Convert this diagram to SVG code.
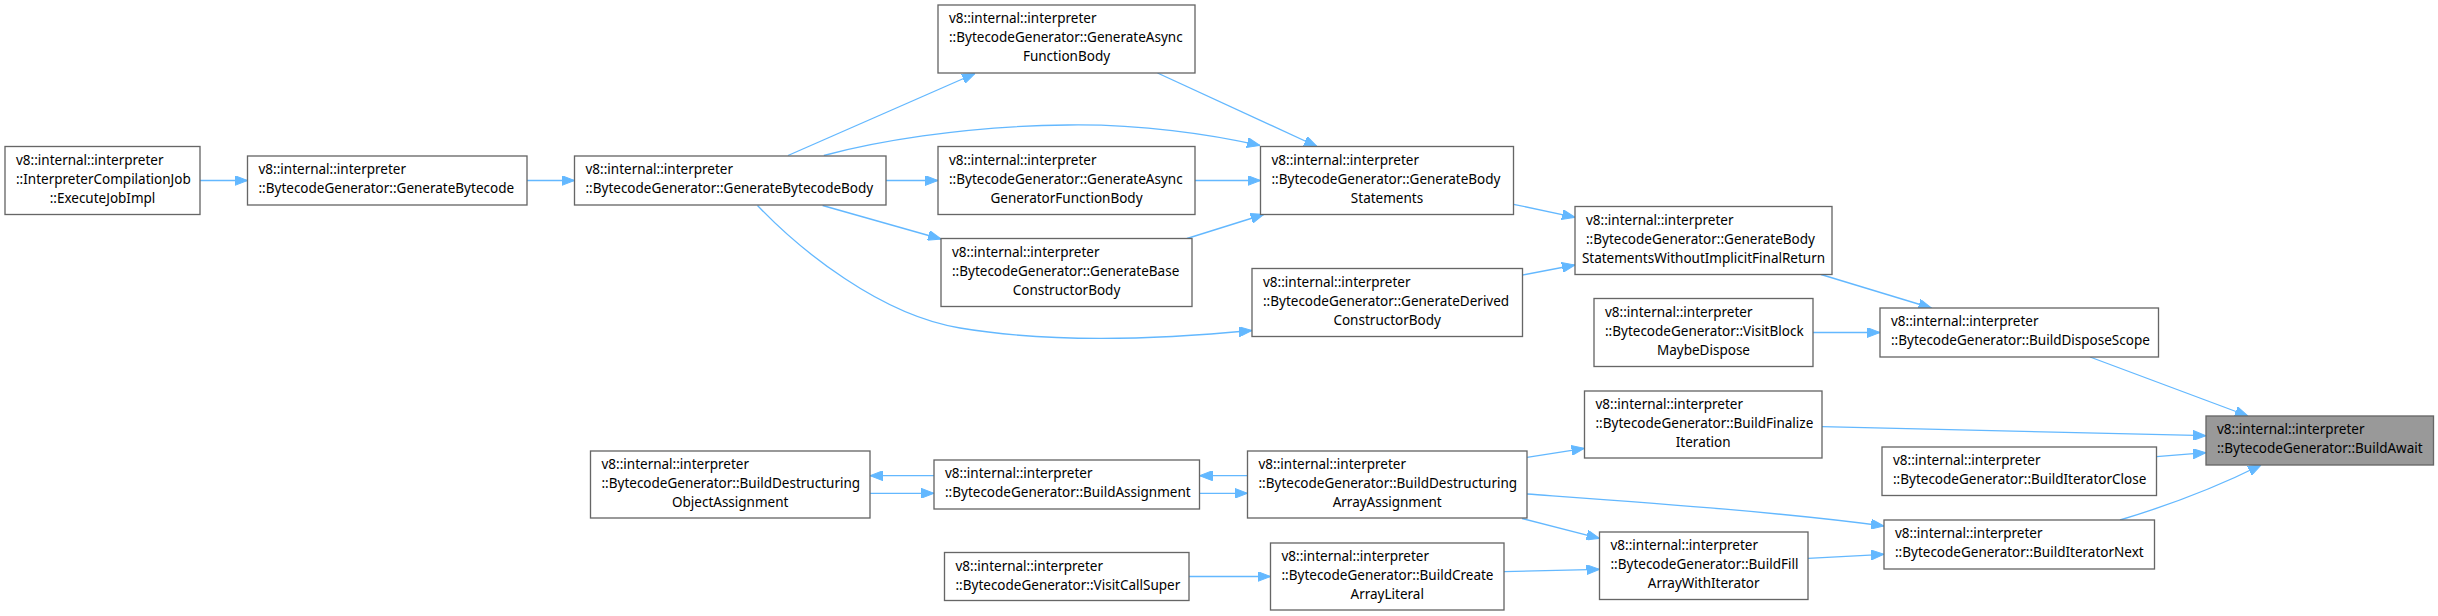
<svg xmlns="http://www.w3.org/2000/svg" width="2438" height="616" viewBox="0 0 2438 616">
<style>
.n rect{fill:#ffffff;stroke:#666666;stroke-width:1.33}
.n text{font-family:"Noto Sans","Liberation Sans",sans-serif;font-size:13.5px;fill:#000000}
.n text.c{text-anchor:middle}
#N12 rect{fill:#999999}
.e path{fill:none;stroke:#63b8ff;stroke-width:1.33;marker-end:url(#ah)}
</style>
<defs>
<marker id="ah" viewBox="0 0 13 10" refX="13" refY="5" markerWidth="13" markerHeight="10" markerUnits="userSpaceOnUse" orient="auto">
<path d="M0,0 L13,5 L0,10 Z" fill="#63b8ff" stroke="#63b8ff" stroke-width="1"/>
</marker>
</defs>
<rect width="2438" height="616" fill="#ffffff"/>
<g class="e" id="edges">
<path d="M200,180.5 L247.5,180.5"/>
<path d="M527,180.5 L574.5,180.5"/>
<path d="M788,155.5 L975,73.5"/>
<path d="M823.8,155.5 C870,143 960,126 1068,125 C1140,124 1210,134 1260,145.5"/>
<path d="M886,180.5 L938,180.5"/>
<path d="M822.6,205.5 L941,239"/>
<path d="M757.5,205.5 C800,250 880,315 960,328 C1050,343 1150,340 1252,330.5"/>
<path d="M1157.5,73 L1317,146.5"/>
<path d="M1195,180.5 L1260.5,180.5"/>
<path d="M1187,238.5 L1263.7,214.5"/>
<path d="M1513.5,204.3 L1575,217.3"/>
<path d="M1522.5,275 L1575,265"/>
<path d="M1821,274.5 L1931.5,308"/>
<path d="M1813,332.5 L1880,332.5"/>
<path d="M2090,357 L2248,416"/>
<path d="M1822,426.7 L2206,435.7"/>
<path d="M2156.5,456.7 L2206,452.7"/>
<path d="M2120,520 C2170,505 2215,488 2261,465"/>
<path d="M1527,457.3 L1584.5,448.3"/>
<path d="M1527,494 C1650,503 1780,512 1884,526"/>
<path d="M1522,518.5 L1599.5,538.3"/>
<path d="M1504,571.7 L1599.5,569.3"/>
<path d="M1808,558.3 L1884,554.3"/>
<path d="M1247.5,475.7 L1199.5,475.7"/>
<path d="M1199.5,493.3 L1247.5,493.3"/>
<path d="M934,475.7 L870,475.7"/>
<path d="M870,493.3 L934,493.3"/>
<path d="M1189,576.5 L1270.5,576.5"/>
</g>
<g class="n" id="N1"><rect x="5" y="146.5" width="195" height="68"/><text x="16" y="164.5">v8::internal::interpreter</text><text x="16" y="183.5">::InterpreterCompilationJob</text><text class="c" x="102.5" y="202.5">::ExecuteJobImpl</text></g>
<g class="n" id="N2"><rect x="247.5" y="156" width="279.5" height="49"/><text x="258.5" y="174">v8::internal::interpreter</text><text x="258.5" y="193">::BytecodeGenerator::GenerateBytecode</text></g>
<g class="n" id="N3"><rect x="574.5" y="156" width="311.5" height="49"/><text x="585.5" y="174">v8::internal::interpreter</text><text x="585.5" y="193">::BytecodeGenerator::GenerateBytecodeBody</text></g>
<g class="n" id="N4"><rect x="938" y="5" width="257" height="68"/><text x="949" y="23">v8::internal::interpreter</text><text x="949" y="42">::BytecodeGenerator::GenerateAsync</text><text class="c" x="1066.5" y="61">FunctionBody</text></g>
<g class="n" id="N5"><rect x="938" y="146.5" width="257" height="68"/><text x="949" y="164.5">v8::internal::interpreter</text><text x="949" y="183.5">::BytecodeGenerator::GenerateAsync</text><text class="c" x="1066.5" y="202.5">GeneratorFunctionBody</text></g>
<g class="n" id="N6"><rect x="941" y="238.5" width="251" height="68"/><text x="952" y="256.5">v8::internal::interpreter</text><text x="952" y="275.5">::BytecodeGenerator::GenerateBase</text><text class="c" x="1066.5" y="294.5">ConstructorBody</text></g>
<g class="n" id="N7"><rect x="1260.5" y="146.5" width="253" height="68"/><text x="1271.5" y="164.5">v8::internal::interpreter</text><text x="1271.5" y="183.5">::BytecodeGenerator::GenerateBody</text><text class="c" x="1387" y="202.5">Statements</text></g>
<g class="n" id="N8"><rect x="1252" y="268.5" width="270.5" height="68"/><text x="1263" y="286.5">v8::internal::interpreter</text><text x="1263" y="305.5">::BytecodeGenerator::GenerateDerived</text><text class="c" x="1387.2" y="324.5">ConstructorBody</text></g>
<g class="n" id="N9"><rect x="1575" y="206.5" width="257" height="68"/><text x="1586" y="224.5">v8::internal::interpreter</text><text x="1586" y="243.5">::BytecodeGenerator::GenerateBody</text><text class="c" x="1703.5" y="262.5">StatementsWithoutImplicitFinalReturn</text></g>
<g class="n" id="N10"><rect x="1594" y="298.5" width="219" height="68"/><text x="1605" y="316.5">v8::internal::interpreter</text><text x="1605" y="335.5">::BytecodeGenerator::VisitBlock</text><text class="c" x="1703.5" y="354.5">MaybeDispose</text></g>
<g class="n" id="N11"><rect x="1880" y="308" width="278.5" height="49"/><text x="1891" y="326">v8::internal::interpreter</text><text x="1891" y="345">::BytecodeGenerator::BuildDisposeScope</text></g>
<g class="n" id="N12"><rect x="2206" y="416" width="227.5" height="49"/><text x="2217" y="434">v8::internal::interpreter</text><text x="2217" y="453">::BytecodeGenerator::BuildAwait</text></g>
<g class="n" id="N13"><rect x="1584.5" y="391" width="237.5" height="67"/><text x="1595.5" y="409">v8::internal::interpreter</text><text x="1595.5" y="428">::BytecodeGenerator::BuildFinalize</text><text class="c" x="1703.2" y="447">Iteration</text></g>
<g class="n" id="N14"><rect x="1882" y="447" width="274.5" height="48.5"/><text x="1893" y="465">v8::internal::interpreter</text><text x="1893" y="484">::BytecodeGenerator::BuildIteratorClose</text></g>
<g class="n" id="N15"><rect x="1884" y="520" width="270.5" height="49"/><text x="1895" y="538">v8::internal::interpreter</text><text x="1895" y="557">::BytecodeGenerator::BuildIteratorNext</text></g>
<g class="n" id="N16"><rect x="1247.5" y="451" width="279.5" height="67"/><text x="1258.5" y="469">v8::internal::interpreter</text><text x="1258.5" y="488">::BytecodeGenerator::BuildDestructuring</text><text class="c" x="1387.2" y="507">ArrayAssignment</text></g>
<g class="n" id="N17"><rect x="590.5" y="451" width="279.5" height="67"/><text x="601.5" y="469">v8::internal::interpreter</text><text x="601.5" y="488">::BytecodeGenerator::BuildDestructuring</text><text class="c" x="730.2" y="507">ObjectAssignment</text></g>
<g class="n" id="N18"><rect x="934" y="460" width="265.5" height="49"/><text x="945" y="478">v8::internal::interpreter</text><text x="945" y="497">::BytecodeGenerator::BuildAssignment</text></g>
<g class="n" id="N19"><rect x="1270.5" y="543" width="233.5" height="67"/><text x="1281.5" y="561">v8::internal::interpreter</text><text x="1281.5" y="580">::BytecodeGenerator::BuildCreate</text><text class="c" x="1387.2" y="599">ArrayLiteral</text></g>
<g class="n" id="N20"><rect x="1599.5" y="532" width="208.5" height="67.5"/><text x="1610.5" y="550">v8::internal::interpreter</text><text x="1610.5" y="569">::BytecodeGenerator::BuildFill</text><text class="c" x="1703.7" y="588">ArrayWithIterator</text></g>
<g class="n" id="N21"><rect x="944.5" y="552.5" width="244.5" height="48"/><text x="955.5" y="570.5">v8::internal::interpreter</text><text x="955.5" y="589.5">::BytecodeGenerator::VisitCallSuper</text></g>
</svg>
